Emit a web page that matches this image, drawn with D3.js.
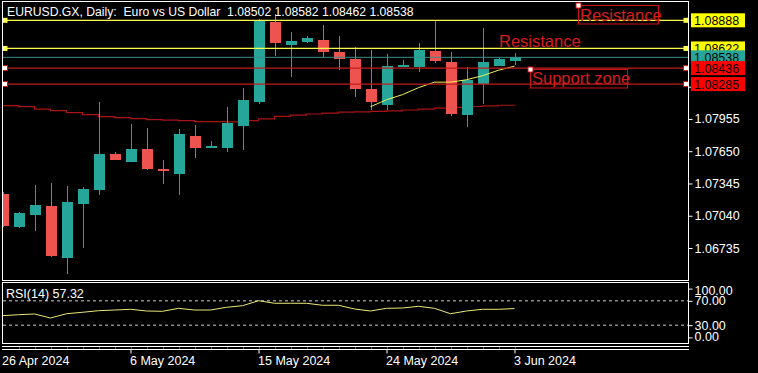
<!doctype html>
<html>
  <head>
    <script src="https://cdn.jsdelivr.net/npm/d3@7/dist/d3.min.js"></script>
    <style>
      body, html {
        margin: 0;
        background: #000;
      }
      svg {
        display: block;
        font-family: "Liberation Sans", Arial, sans-serif;
      }
      .axis text {
        fill: #fff;
        font-size: 12.5px;
      }
      .axis line {
        stroke: #fff;
      }
      .axis path {
        display: none;
      }
    </style>
  </head>
  <body>
    <svg width="758" height="373"></svg>
    <script>

      // daily bars (broker feed includes Sunday sessions)
      var dates = ["2024-04-26", "2024-04-28", "2024-04-29", "2024-04-30", "2024-05-01", "2024-05-02",
        "2024-05-03", "2024-05-05", "2024-05-06", "2024-05-07", "2024-05-08", "2024-05-09", "2024-05-10",
        "2024-05-12", "2024-05-13", "2024-05-14", "2024-05-15", "2024-05-16", "2024-05-17", "2024-05-19",
        "2024-05-20", "2024-05-21", "2024-05-22", "2024-05-23", "2024-05-24", "2024-05-26", "2024-05-27",
        "2024-05-28", "2024-05-29", "2024-05-30", "2024-05-31", "2024-06-02", "2024-06-03"];

      var open  = [1.07250, 1.06931, 1.07045, 1.07136, 1.06639, 1.07149, 1.07281, 1.07627, 1.07552, 1.07675, 1.07486,
        1.07439, 1.07797, 1.07684, 1.07684, 1.07892, 1.08112, 1.08874, 1.08659, 1.08685, 1.08704, 1.08591,
        1.08524, 1.08235, 1.08087, 1.08442, 1.08442, 1.08600, 1.08496, 1.07996, 1.08288, 1.08458, 1.08502];
      var high  = [1.07262, 1.07075, 1.07335, 1.07351, 1.07325, 1.07309, 1.08118, 1.07646, 1.07911, 1.07873, 1.07571,
        1.07863, 1.07901, 1.07750, 1.08071, 1.08251, 1.08899, 1.08949, 1.08779, 1.08744, 1.08848, 1.08742,
        1.08638, 1.08609, 1.08569, 1.08515, 1.08678, 1.08886, 1.08588, 1.08446, 1.08817, 1.08530, 1.08582];
      var low   = [1.06930, 1.06925, 1.06894, 1.06648, 1.06491, 1.06733, 1.07234, 1.07564, 1.07545, 1.07470, 1.07344,
        1.07234, 1.07590, 1.07684, 1.07646, 1.07665, 1.08095, 1.08546, 1.08348, 1.08678, 1.08541, 1.08414,
        1.08163, 1.08043, 1.08043, 1.08442, 1.08395, 1.08484, 1.07986, 1.07876, 1.08100, 1.08452, 1.08462];
      var close = [1.06941, 1.07070, 1.07146, 1.06658, 1.07174, 1.07297, 1.07627, 1.07571, 1.07675, 1.07486, 1.07460,
        1.07816, 1.07684, 1.07703, 1.07917, 1.08137, 1.08893, 1.08669, 1.08694, 1.08723, 1.08591, 1.08524,
        1.08241, 1.08112, 1.08458, 1.08468, 1.08609, 1.08506, 1.08005, 1.08320, 1.08496, 1.08524, 1.08538];

      var maSlow = [1.08081, 1.08071, 1.08048, 1.08033, 1.08015, 1.07996, 1.07977, 1.07967, 1.07958, 1.07948, 1.07944,
        1.07939, 1.07930, 1.07930, 1.07927, 1.07939, 1.07955, 1.07980, 1.07991, 1.08002, 1.08010, 1.08019,
        1.08022, 1.08026, 1.08031, 1.08040, 1.08049, 1.08057, 1.08064, 1.08073, 1.08079, 1.08085, 1.08090];
      var maFast = [null, null, null, null, null, null, null, null, null, null, null, null, null, null, null, null,
        null, null, null, null, null, null, null, 1.08071, 1.08137, 1.08185, 1.08251, 1.08303, 1.08303, 1.08326,
        1.08364, 1.08416, 1.08454];

      var rsi = [45.6, 47.2, 48.4, 41.8, 48.8, 51.2, 53.8, 54.9, 56.1, 53.3, 52.8, 57.7, 54.9, 54.9, 59.4, 62.0, 70.2,
        66.0, 66.0, 66.0, 62.7, 62.7, 56.6, 53.3, 57.7, 58.2, 61.0, 57.7, 48.8, 53.3, 56.1, 56.1, 57.32];

      // 1.08565 and 1.08870 sit fully under the price tags, so they are left out
      var priceTicks = [1.06735, 1.07040, 1.07345, 1.07650, 1.07955, 1.08260];
      var rsiTicks = [100, 70, 30, 0];
      var timeTicks = ["2024-04-26", "2024-05-06", "2024-05-15", "2024-05-24", "2024-06-03"];
      var timeLabels = ["26 Apr 2024", "6 May 2024", "15 May 2024", "24 May 2024", "3 Jun 2024"];

      var levels = [1.08888, 1.08622, 1.08436, 1.08285];
      var levelKinds = ["res", "res", "sup", "sup"];
      var bid = 1.08538;

      var svg = d3.select("svg");
      var bull = "#26a69a", bear = "#ef5350";

      var x = d3.scalePoint().domain(dates).range([2.5, 514.5]);
      var y = d3.scaleLinear().domain([1.06735, 1.08888]).range([248, 20.3]);
      var ry = d3.scaleLinear().domain([0, 100]).range([343.4, 282.6]);

      var plot = svg.append("g");
      plot.append("clipPath").attr("id", "clip")
        .append("rect").attr("x", 3).attr("y", 2).attr("width", 685).attr("height", 278);

      var main = plot.append("g").attr("clip-path", "url(#clip)");

      // slow MA
      main.append("path")
        .datum(maSlow)
        .attr("fill", "none")
        .attr("stroke", "#a81414")
        .attr("stroke-width", 1.2)
        .attr("d", d3.line().x((d, i) => x(dates[i])).y(d => y(d)).curve(d3.curveStepAfter));

      // candles
      var candle = main.selectAll("g.candle")
        .data(dates)
        .join("g")
        .attr("shape-rendering", "crispEdges")
        .attr("fill", (d, i) => close[i] >= open[i] ? bull : bear)
        .attr("stroke", (d, i) => close[i] >= open[i] ? bull : bear);

      candle.append("line")
        .attr("x1", d => Math.round(x(d)) + 0.5)
        .attr("x2", d => Math.round(x(d)) + 0.5)
        .attr("y1", (d, i) => y(high[i]))
        .attr("y2", (d, i) => y(low[i]));

      candle.append("rect")
        .attr("stroke", "none")
        .attr("x", d => Math.round(x(d)) - 5)
        .attr("width", 11)
        .attr("y", (d, i) => y(Math.max(open[i], close[i])))
        .attr("height", (d, i) => Math.max(1.5, Math.abs(y(open[i]) - y(close[i]))));

      // fast MA
      main.append("path")
        .datum(maFast)
        .attr("fill", "none")
        .attr("stroke", "#f0f05a")
        .attr("stroke-width", 1)
        .attr("d", d3.line().defined(d => d != null).x((d, i) => x(dates[i])).y(d => y(d)));

      // bid line
      main.append("line")
        .attr("x1", 3).attr("x2", 688)
        .attr("y1", y(bid)).attr("y2", y(bid))
        .attr("stroke", "#3a8f8a").attr("stroke-width", 1);

      // horizontal levels
      levels.forEach((v, i) => {
        var col = levelKinds[i] == "res" ? "#ffff50" : "#c01c1c";
        main.append("line")
          .attr("x1", 3).attr("x2", 688)
          .attr("y1", y(v)).attr("y2", y(v))
          .attr("stroke", col).attr("stroke-width", 1.2);
        [5, 686].forEach(hx => {
          main.append("rect")
            .attr("x", hx - 2.5).attr("y", y(v) - 2.5)
            .attr("width", 5).attr("height", 5)
            .attr("fill", levelKinds[i] == "res" ? "#ffff50" : "#fff")
            .attr("stroke", levelKinds[i] == "res" ? "none" : "#d01010")
            .attr("stroke-width", 1);
        });
      });

      // text annotations
      main.append("rect").attr("x", 578.5).attr("y", 5.5).attr("width", 80).attr("height", 18.5)
        .attr("fill", "none").attr("stroke", "#c81414");
      main.append("text").attr("x", 580).attr("y", 21).attr("fill", "#d81c1c")
        .style("font-size", "16.5px").text("Resistance");
      main.append("rect").attr("x", 576).attr("y", 3).attr("width", 5).attr("height", 5)
        .attr("fill", "#fff").attr("stroke", "#d01010");

      main.append("text").attr("x", 499).attr("y", 47).attr("fill", "#d81c1c")
        .style("font-size", "16.5px").text("Resistance");

      main.append("rect").attr("x", 530.5).attr("y", 69.5).attr("width", 97).attr("height", 18.5)
        .attr("fill", "none").attr("stroke", "#c81414");
      main.append("text").attr("x", 532).attr("y", 84).attr("fill", "#d81c1c")
        .style("font-size", "16.5px").text("Support zone");
      main.append("rect").attr("x", 528).attr("y", 67).attr("width", 5).attr("height", 5)
        .attr("fill", "#fff").attr("stroke", "#d01010");

      // title
      svg.append("text")
        .attr("x", 7).attr("y", 16)
        .attr("fill", "#fff")
        .style("font-size", "12.2px")
        .style("white-space", "pre")
        .text("EURUSD.GX, Daily:  Euro vs US Dollar  1.08502 1.08582 1.08462 1.08538");

      // price axis
      svg.append("g")
        .attr("class", "axis")
        .attr("transform", "translate(688.5,0)")
        .call(d3.axisRight(y).tickValues(priceTicks).tickSize(4).tickPadding(2).tickFormat(d3.format(".5f")));

      // price tags
      var tags = [levels[0], levels[1], bid, levels[2], levels[3]];
      var tagFill = ["#ffff00", "#ffff00", bull, "#ff0000", "#ff0000"];
      tags.forEach((v, i) => {
        svg.append("rect")
          .attr("x", 691).attr("y", y(v) - 7)
          .attr("width", 54).attr("height", 14)
          .attr("fill", tagFill[i]);
        svg.append("text")
          .attr("x", 694).attr("y", y(v) + 4.5)
          .attr("fill", "#000")
          .style("font-size", "12.5px")
          .text(d3.format(".5f")(v));
      });

      // frames
      var frame = svg.append("g").attr("fill", "none").attr("stroke", "#fff").attr("shape-rendering", "crispEdges");
      frame.append("rect").attr("x", 2.5).attr("y", 1.5).attr("width", 686).attr("height", 279);
      frame.append("rect").attr("x", 2.5).attr("y", 282.5).attr("width", 686).attr("height", 61);
      frame.append("line").attr("x1", 2).attr("x2", 689).attr("y1", 346.5).attr("y2", 346.5);
      frame.append("line").attr("x1", 2).attr("x2", 689).attr("y1", 349.5).attr("y2", 349.5);

      // bar marks between the bottom rails
      svg.append("g").selectAll("line")
        .data(dates.slice(1))
        .join("line")
        .attr("x1", d => Math.round(x(d)) + 0.5).attr("x2", d => Math.round(x(d)) + 0.5)
        .attr("y1", 347).attr("y2", 349)
        .attr("stroke", (d, i) => i % 3 == 1 ? "#a03030" : "#555");

      // RSI panel
      svg.append("g").selectAll("line.lvl")
        .data([70, 30])
        .join("line")
        .attr("x1", 3).attr("x2", 688)
        .attr("y1", d => ry(d)).attr("y2", d => ry(d))
        .attr("stroke", "#ccc").attr("stroke-dasharray", "3,3");

      svg.append("path")
        .datum(rsi)
        .attr("fill", "none")
        .attr("stroke", "#e8e878")
        .attr("stroke-width", 1)
        .attr("d", d3.line().x((d, i) => x(dates[i])).y(d => ry(d)));

      svg.append("text")
        .attr("x", 6).attr("y", 298)
        .attr("fill", "#fff")
        .style("font-size", "12.5px")
        .text("RSI(14) 57.32");

      var rAxis = svg.append("g")
        .attr("class", "axis")
        .attr("transform", "translate(688.5,0)")
        .call(d3.axisRight(ry).tickValues(rsiTicks).tickSize(4).tickPadding(2).tickFormat(d3.format(".2f")));
      rAxis.selectAll(".tick text").attr("dy", d => d == 100 ? "0.95em" : d == 0 ? "-0.25em" : "0.32em");
      rAxis.selectAll(".tick line").attr("y1", d => d == 100 ? 6 : d == 0 ? -6 : 0).attr("y2", d => d == 100 ? 6 : d == 0 ? -6 : 0);

      // time axis
      var tAxis = svg.append("g")
        .attr("class", "axis")
        .attr("transform", "translate(0,349.5)")
        .call(d3.axisBottom(x).tickValues(timeTicks).tickSize(4).tickPadding(3)
          .tickFormat((d, i) => timeLabels[i]));
      tAxis.selectAll(".tick text").attr("text-anchor", "start").attr("dx", "-1");
      tAxis.selectAll(".tick").filter((d, i) => i == 0).select("line").remove();

    </script>
  </body>
</html>
